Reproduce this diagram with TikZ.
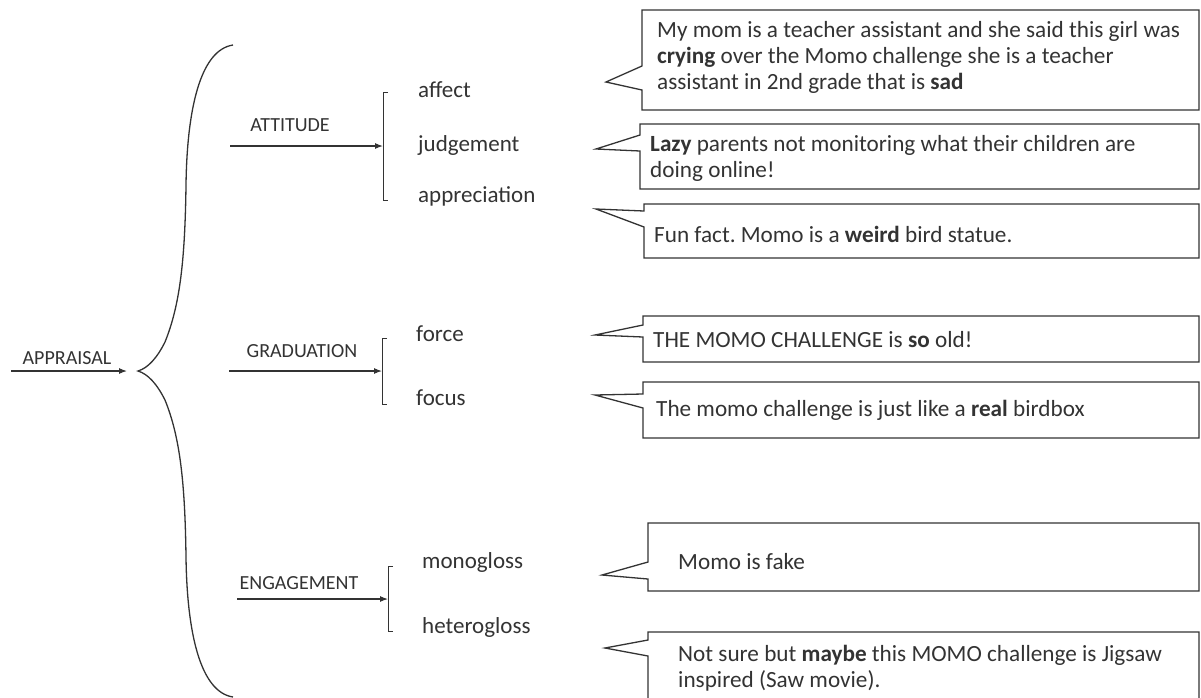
\documentclass[tikz,border=0pt]{standalone}
\usepackage{fontspec}
\setmainfont{Carlito}
\usetikzlibrary{arrows.meta}
\definecolor{ink}{HTML}{333333}
\frenchspacing
\begin{document}
\begin{tikzpicture}[x=1pt,y=-1pt,
  line/.style={draw=ink, line width=1.1pt},
  arr/.style={line, -{Latex[length=8pt,width=6pt]}},
  brk/.style={draw=ink, line width=1.0pt},
  lbl/.style={font=\fontsize{20}{24}\selectfont, text=ink, inner sep=0pt},
  item/.style={font=\fontsize{23}{27}\selectfont, text=ink, inner sep=0pt,
    anchor=west, text height=15.5pt, text depth=4pt},
  say/.style={font=\fontsize{23.2}{26}\selectfont, text=ink, inner sep=0pt,
    anchor=west, align=left},
  bubble/.style={draw=ink, line width=1.3pt, line join=miter},
]
\useasboundingbox (0,0) rectangle (1201,697);

% ---- root and the big brace ----
\node[lbl] (appraisal) at (67,358) {APPRAISAL};
\coordinate (rootstart) at (11,371);
\coordinate (bracetip) at (127,371);
\draw[arr] (rootstart) -- (bracetip);
\draw[line, line width=1.3pt]
  (233,45) .. controls (200,50) and (187,110) .. (186,185)
  .. controls (185,260) and (180,305) .. (165,342)
  .. controls (157,358) and (148,368) .. (138,371)
  .. controls (148,374) and (157,384) .. (165,400)
  .. controls (180,437) and (185,482) .. (186,557)
  .. controls (187,632) and (200,692) .. (233,697);

% ---- ATTITUDE ----
\node[lbl] (attitude) at (290,125) {ATTITUDE};
\coordinate (attS) at (230,146);
\coordinate (attB) at (383,146);
\draw[arr] (attS) -- (attB);
\draw[brk] (388,92) -- (383,92) -- (383,200) -- (388,200);
\node[item] (affect) at (418,92) {affect};
\node[item] (judgement) at (418,146) {judgement};
\node[item] (appreciation) at (418,197) {appreciation};

% ---- GRADUATION ----
\node[lbl] (graduation) at (302,351) {GRADUATION};
\coordinate (graS) at (229,371);
\coordinate (graB) at (382,371);
\draw[arr] (graS) -- (graB);
\draw[brk] (387,338) -- (382,338) -- (382,404) -- (387,404);
\node[item] (force) at (416,336) {force};
\node[item] (focus) at (416,400) {focus};

% ---- ENGAGEMENT ----
\node[lbl] (engagement) at (299,583) {ENGAGEMENT};
\coordinate (engS) at (237,599);
\coordinate (engB) at (388,599);
\draw[arr] (engS) -- (engB);
\draw[brk] (393,566) -- (388,566) -- (388,631) -- (393,631);
\node[item] (monogloss) at (422,563) {monogloss};
\node[item] (heterogloss) at (422,628) {heterogloss};

% ---- speech bubbles: left edge, top, bottom, tip, attach points ----
\draw[bubble] (642,66) -- (642,10) -- (1199,10) -- (1199,110) -- (642,110) -- (642,90) -- (606,82) -- cycle;
\node[say] (q1) at (657,57) {My mom is a teacher assistant and she said this girl was\\
  \textbf{crying} over the Momo challenge she is a teacher\\
  assistant in 2nd grade that is \textbf{sad}};

\draw[bubble] (640,135) -- (640,124) -- (1199,124) -- (1199,189) -- (640,189) -- (640,151) -- (596,149) -- cycle;
\node[say] (q2) at (650,158) {\textbf{Lazy} parents not monitoring what their children are\\
  doing online!};

\draw[bubble] (644,211) -- (644,204) -- (1199,204) -- (1199,258) -- (644,258) -- (644,227) -- (596,209) -- cycle;
\node[say] (q3) at (654,234) {Fun fact. Momo is a \textbf{weird} bird statue.};

\draw[bubble] (643,325) -- (643,316) -- (1199,316) -- (1199,362) -- (643,362) -- (643,337) -- (595,335) -- cycle;
\node[say] (q4) at (653,340) {THE MOMO CHALLENGE is \textbf{so} old!};

\draw[bubble] (643,394) -- (643,382) -- (1199,382) -- (1199,438) -- (643,438) -- (643,408) -- (595,395) -- cycle;
\node[say] (q5) at (656,410) {The momo challenge is just like a \textbf{real} birdbox};

\draw[bubble] (648,562) -- (648,523) -- (1199,523) -- (1199,591) -- (648,591) -- (648,579) -- (602,575) -- cycle;
\node[say] (q6) at (678,562) {Momo is fake};

\draw[bubble] (648,640) -- (648,632) -- (1199,632) -- (1199,705) -- (648,705) -- (648,656) -- (605,648) -- cycle;
\node[say] (q7) at (678,668) {Not sure but \textbf{maybe} this MOMO challenge is Jigsaw\\
  inspired (Saw movie).};
\end{tikzpicture}
\end{document}
